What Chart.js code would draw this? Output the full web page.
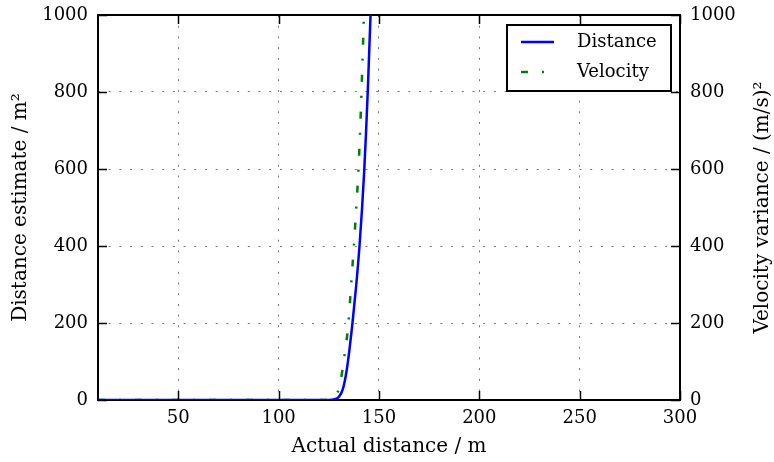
<!DOCTYPE html>
<html>
<head>
<meta charset="utf-8">
<script src="https://cdn.jsdelivr.net/npm/chart.js@4/dist/chart.umd.min.js"></script>
<style>
  html, body { margin: 0; padding: 0; background: #ffffff; }
  #wrap { width: 774px; height: 462px; position: relative; }
</style>
</head>
<body>
<div id="wrap"><canvas id="c" width="774" height="462"></canvas></div>
<script>
// ---- data ----
const xTickValues = [50, 100, 150, 200, 250, 300];
const yTickValues = [0, 200, 400, 600, 800, 1000];

const distanceX = [10, 120, 125, 128, 130, 132, 134, 135.5, 136.8, 138.7, 140.3, 141.6, 142.7, 143.6, 144.4, 145.1, 145.8];
const distanceY = [0, 0, 0, 2, 8, 28, 80, 140, 200, 300, 400, 500, 600, 700, 800, 900, 1000];

const velocityX = [10, 124, 127, 130.3, 133.2, 134.8, 136, 137.5, 138.7, 139.8, 140.6, 141.3, 141.9, 142.5];
const velocityY = [0, 0, 4, 35, 130, 200, 290, 400, 500, 600, 700, 800, 900, 1000];

const seriesLabels = ['Distance', 'Velocity'];
const xTitle = 'Actual distance / m';
const yTitle = 'Distance estimate / m\u00B2';
const y2Title = 'Velocity variance / (m/s)\u00B2';

const FONT = 'DejaVu Serif';

function pts(xs, ys) { return xs.map((x, i) => ({ x: x, y: ys[i] })); }

const framePlugin = {
  id: 'frame',
  beforeDatasetsDraw(chart) {
    const { ctx, chartArea: a } = chart;
    ctx.save();
    ctx.strokeStyle = '#000';
    ctx.lineWidth = 2;
    ctx.strokeRect(a.left, a.top, a.right - a.left, a.bottom - a.top);
    ctx.restore();
  },
  afterDraw(chart) {
    const { ctx, chartArea: a, scales } = chart;
    const L = 9;
    ctx.save();
    ctx.strokeStyle = '#000';
    ctx.lineWidth = 1.5;
    ctx.beginPath();
    scales.x.ticks.forEach(t => {
      const px = Math.round(scales.x.getPixelForValue(t.value)) + 0.5;
      ctx.moveTo(px, a.bottom); ctx.lineTo(px, a.bottom - L);
      ctx.moveTo(px, a.top); ctx.lineTo(px, a.top + L);
    });
    scales.y.ticks.forEach(t => {
      const py = Math.round(scales.y.getPixelForValue(t.value)) + 0.5;
      ctx.moveTo(a.left, py); ctx.lineTo(a.left + L, py);
    });
    scales.y2.ticks.forEach(t => {
      const py = Math.round(scales.y2.getPixelForValue(t.value)) + 0.5;
      ctx.moveTo(a.right, py); ctx.lineTo(a.right - L, py);
    });
    ctx.stroke();

    // right axis title, reading bottom-to-top
    ctx.fillStyle = '#000';
    ctx.font = '20px "' + FONT + '"';
    ctx.textAlign = 'center';
    ctx.textBaseline = 'middle';
    ctx.translate(763, (a.top + a.bottom) / 2);
    ctx.rotate(-Math.PI / 2);
    ctx.fillText(y2Title, 0, 0);
    ctx.restore();

    // legend
    const bx = a.right - 173, by = a.top + 10, bw = 164, bh = 66;
    ctx.save();
    ctx.fillStyle = '#fff';
    ctx.fillRect(bx, by, bw, bh);
    ctx.strokeStyle = '#000';
    ctx.lineWidth = 2;
    ctx.strokeRect(bx, by, bw, bh);
    chart.data.datasets.forEach((ds, i) => {
      const yy = by + 17 + i * 30;
      ctx.beginPath();
      ctx.strokeStyle = ds.borderColor;
      ctx.lineWidth = ds.borderWidth;
      ctx.setLineDash(ds.borderDash || []);
      ctx.moveTo(bx + 14, yy); ctx.lineTo(bx + 47, yy);
      ctx.stroke();
      ctx.setLineDash([]);
      ctx.fillStyle = '#000';
      ctx.font = '18px "' + FONT + '"';
      ctx.textAlign = 'left';
      ctx.textBaseline = 'middle';
      ctx.fillText(ds.label, bx + 70, yy);
    });
    ctx.restore();
  }
};

function fitV(width) {
  return s => { s.width = width; s.paddingTop = 0; s.paddingBottom = 0; };
}

new Chart(document.getElementById('c'), {
  type: 'line',
  data: {
    datasets: [
      {
        label: seriesLabels[0],
        data: pts(distanceX, distanceY),
        borderColor: '#0000ff',
        borderWidth: 2.5,
        pointRadius: 0,
        cubicInterpolationMode: 'monotone',
        yAxisID: 'y'
      },
      {
        label: seriesLabels[1],
        data: pts(velocityX, velocityY),
        borderColor: '#008000',
        borderWidth: 2.5,
        borderDash: [7, 14, 2, 14],
        pointRadius: 0,
        cubicInterpolationMode: 'monotone',
        yAxisID: 'y2'
      }
    ]
  },
  options: {
    responsive: false,
    animation: false,
    layout: { padding: { top: 15, left: 0, right: 0, bottom: 0 } },
    plugins: { legend: { display: false }, tooltip: { enabled: false } },
    scales: {
      x: {
        type: 'linear',
        min: 10, max: 300,
        afterBuildTicks: s => { s.ticks = xTickValues.map(v => ({ value: v })); },
        afterFit: s => { s.height = 62; s.paddingLeft = 0; s.paddingRight = 0; },
        grid: { color: '#777', lineWidth: 1, drawTicks: false },
        border: { display: false, dash: [2, 8.7] },
        ticks: { color: '#000', padding: 8, font: { family: FONT, size: 18 }, maxRotation: 0, callback: v => String(v) },
        title: { display: true, text: xTitle, color: '#000', font: { family: FONT, size: 20 }, padding: { top: 0, bottom: 3 } }
      },
      y: {
        position: 'left',
        min: 0, max: 1000,
        afterBuildTicks: s => { s.ticks = yTickValues.map(v => ({ value: v })); },
        afterFit: fitV(98),
        grid: { color: '#777', lineWidth: 1, drawTicks: false },
        border: { display: false, dash: [2, 8.7] },
        ticks: { color: '#000', padding: 10, font: { family: FONT, size: 18 }, callback: v => String(v) },
        title: { display: true, text: yTitle, color: '#000', font: { family: FONT, size: 20 }, padding: { top: 9, bottom: 0 } }
      },
      y2: {
        position: 'right',
        min: 0, max: 1000,
        afterBuildTicks: s => { s.ticks = yTickValues.map(v => ({ value: v })); },
        afterFit: fitV(94),
        grid: { display: false, drawTicks: false },
        border: { display: false },
        ticks: { color: '#000', padding: 10, font: { family: FONT, size: 18 }, callback: v => String(v) }
      }
    }
  },
  plugins: [framePlugin]
});
</script>
</body>
</html>
